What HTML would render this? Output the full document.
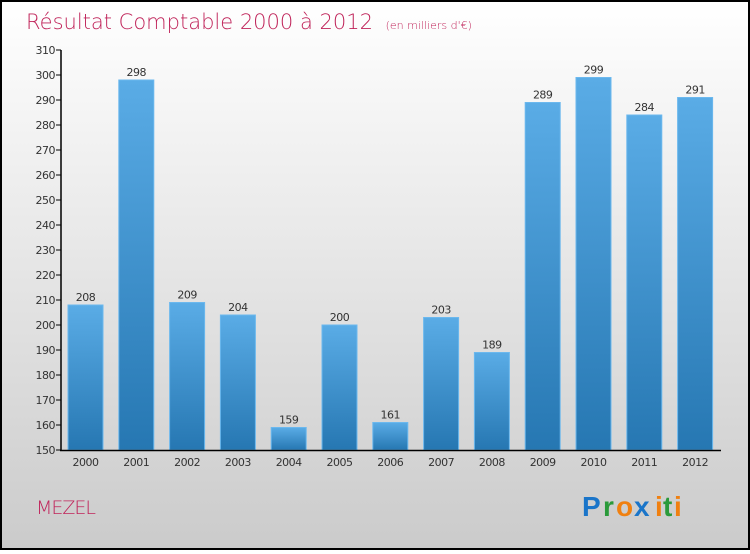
<!DOCTYPE html>
<html><head><meta charset="utf-8"><style>
body{margin:0}
#c{width:750px;height:550px;position:relative;font-family:"DejaVu Sans","Liberation Sans",sans-serif}
</style></head><body>
<div id="c">
<svg width="750" height="550">
<defs>
<linearGradient id="bg" x1="0" y1="0" x2="0" y2="1"><stop offset="0" stop-color="#ffffff"/><stop offset="1" stop-color="#cbcbcb"/></linearGradient>
<linearGradient id="bar" x1="0" y1="0" x2="0" y2="1"><stop offset="0" stop-color="#5aace6"/><stop offset="1" stop-color="#2677b2"/></linearGradient>
</defs>
<rect x="1" y="1" width="748" height="548" fill="url(#bg)" stroke="#000" stroke-width="2"/>
<text x="26" y="29" font-size="21" fill="#c0245a" font-family="DejaVu Sans, sans-serif" font-weight="200">Résultat Comptable 2000 à 2012 <tspan font-size="11" dx="6">(en milliers d'€)</tspan></text>
<g id="plot"></g>
<text x="36" y="514" font-size="19" fill="#c0245a" font-weight="200" letter-spacing="-1">MEZEL</text>
<g font-family="Liberation Sans, sans-serif" font-size="28" font-weight="bold">
<text x="582" y="516" fill="#1a75c9">P</text><text x="603" y="516" fill="#2a9a3a">r</text><text x="616" y="516" fill="#f08010">o</text><text x="634" y="516" fill="#1a75c9">x</text><text x="655" y="516" fill="#f08010">i</text><text x="663" y="516" fill="#2a9a3a">t</text><text x="674" y="516" fill="#f08010">i</text>
</g>
</svg>
</div>
<script>
const categories=["2000","2001","2002","2003","2004","2005","2006","2007","2008","2009","2010","2011","2012"];
const values=[208,298,209,204,159,200,161,203,189,289,299,284,291];
const yTicks=[150,160,170,180,190,200,210,220,230,240,250,260,270,280,290,300,310];
const NS="http://www.w3.org/2000/svg";
const g=document.getElementById('plot');
const y0=450,y1=50,vmin=150,vmax=310;
function yS(v){return y0-(v-vmin)/(vmax-vmin)*(y0-y1);}
function xS(i){return 68+i*50.8;}
function mk(t,a,p){const e=document.createElementNS(NS,t);for(const k in a)e.setAttribute(k,a[k]);(p||g).appendChild(e);return e;}
yTicks.forEach(v=>{
 const l=mk('line',{x1:56,x2:61,y1:yS(v),y2:yS(v),stroke:'#000'});
 
 
 const t=mk('text',{x:55,y:yS(v)+4,'font-size':11,fill:'#333','text-anchor':'end','letter-spacing':'-0.5'});
 t.textContent=v;
 
 
});
values.forEach((v,i)=>{
 const x=xS(i),y=yS(v);
 const r=mk('rect',{x:x,y:y,width:35,height:y0-y,fill:'url(#bar)',stroke:'#6bb8ee','stroke-width':1});
 
 
 const t=mk('text',{x:x+17.5,y:y-4,'font-size':11,fill:'#333','text-anchor':'middle','letter-spacing':'-0.5'});
 t.textContent=v;
 
 
 const c=mk('text',{x:x+17.5,y:466,'font-size':11,fill:'#333','text-anchor':'middle','letter-spacing':'-0.5'});
 c.textContent=categories[i];
 
 
});
const ax=mk('line',{x1:61,x2:61,y1:50,y2:451,stroke:'#000','stroke-width':1.5});


const bx=mk('line',{x1:60,x2:721,y1:450.5,y2:450.5,stroke:'#000','stroke-width':1.5});


</script>
</body></html>
